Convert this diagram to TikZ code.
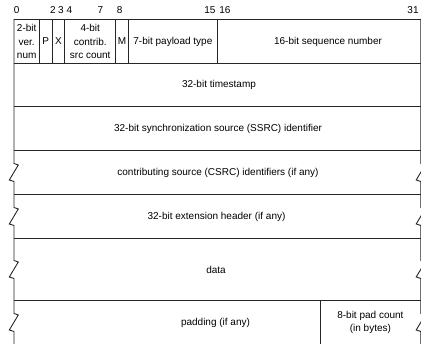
\documentclass[tikz,border=0pt]{standalone}
\usepackage{fontspec}
\setmainfont{Liberation Sans}
\begin{document}
\begin{tikzpicture}[x=1pt,y=-1pt,line width=0.9pt,
  lbl/.style={font=\fontsize{10}{13.5}\selectfont,align=center,inner sep=0pt},
  rule/.style={draw=black!85,line join=miter}]
\useasboundingbox (0,0) rectangle (421,344);
% bit numbers
\foreach \n/\x in {0/16.7,2/53,3/60.8,4/69.3,7/100.3,8/119.7,15/210,16/225,31/413}
  \node[lbl] (bit\n) at (\x,10) {\n};
% horizontal rules
\foreach \y in {19,63,106.5,150.5,194.5,238.5,300.5}
  \draw[rule] (14,\y) -- (420.9,\y);
% first-row dividers
\foreach \x in {39.4,52.1,64.8,115.7,128.4,217.4}
  \draw[rule] (\x,19) -- (\x,63);
% pad count divider
\draw[rule] (320,300.5) -- (320,344);
% left border with breaks
\draw[rule] (14,19) -- (14,163.5) -- (18.3,165) -- (9.3,180) -- (14,181.5)
  -- (14,207.5) -- (18.3,209) -- (9.3,224) -- (14,225.5)
  -- (14,260.5) -- (18.3,262) -- (9.3,277) -- (14,278.5)
  -- (14,313.5) -- (18.3,315) -- (9.3,330) -- (14,331.5) -- (14,344);
% right border with breaks
\draw[rule] (420.9,19) -- (420.9,163.5) -- (425.2,165) -- (416.2,180) -- (420.9,181.5)
  -- (420.9,207.5) -- (425.2,209) -- (416.2,224) -- (420.9,225.5)
  -- (420.9,260.5) -- (425.2,262) -- (416.2,277) -- (420.9,278.5)
  -- (420.9,313.5) -- (425.2,315) -- (416.2,330) -- (420.9,331.5) -- (420.9,344);
% fields
\node[lbl] (ver) at (26.7,41.5) {2-bit\\ver.\\num};
\node[lbl] (pad1) at (45.75,41.5) {P};
\node[lbl] (ext1) at (58.45,41.5) {X};
\node[lbl] (cc) at (90.25,41.5) {4-bit\\contrib.\\src count};
\node[lbl] (mark) at (122,41.5) {M};
\node[lbl] (pt) at (172.9,41.5) {7-bit payload type};
\node[lbl] (seq) at (328,41.5) {16-bit sequence number};
\node[lbl] (ts) at (219,85) {32-bit timestamp};
\node[lbl] (ssrc) at (218,128.5) {32-bit synchronization source (SSRC) identifier};
\node[lbl] (csrc) at (218,172.5) {contributing source (CSRC) identifiers (if any)};
\node[lbl] (exth) at (216.5,216.5) {32-bit extension header (if any)};
\node[lbl] (data) at (216,269.5) {data};
\node[lbl] (padding) at (215.5,322.5) {padding (if any)};
\node[lbl] (padcount) at (370.4,322.5) {8-bit pad count\\(in bytes)};
\end{tikzpicture}
\end{document}
